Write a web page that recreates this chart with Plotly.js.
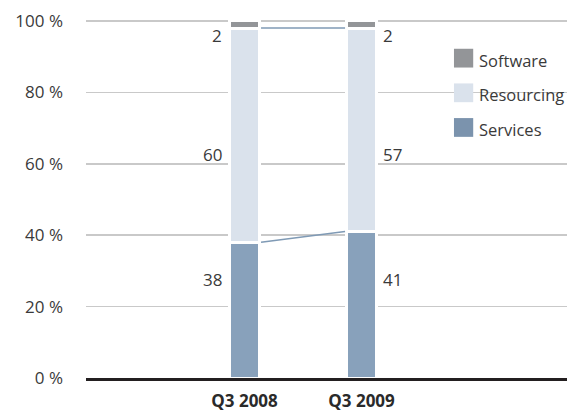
<!DOCTYPE html>
<html>
<head>
<meta charset="utf-8">
<script src="https://cdn.plot.ly/plotly-3.0.1.min.js"></script>
<style>html,body{margin:0;padding:0;background:#fff;}#chart{width:567px;height:413px;}</style>
</head>
<body>
<div id="chart"></div>
<script>
// ---- data ----
const categories = ["Q3 2008", "Q3 2009"];
const services = [38, 41];
const resourcing = [60, 57];
const software = [2, 2];
const seriesNames = ["Software", "Resourcing", "Services"];
const yTickVals = [0, 20, 40, 60, 80, 100];
const yTickText = ["0 %", "20 %", "40 %", "60 %", "80 %", "100 %"];

// ---- style ----
const FONT = "Open Sans, Noto Sans, sans-serif";
const TXT = "#3a3a3a";
const colSoftware = "#939598";
const colResourcing = "#dae2ec";
const colServices = "#88a1bb";
const colServicesLegend = "#7b93ad";
const lineCol = "#7f9ab5";
const barWidth = 0.256;
const idx = categories.map((c, i) => i);

const barLine = {color: "#ffffff", width: 3};
const traces = [
  {type: "bar", x: idx, y: services, name: "Services", width: barWidth,
   marker: {color: colServices, line: barLine}, hoverinfo: "skip", showlegend: false},
  {type: "bar", x: idx, y: resourcing, name: "Resourcing", width: barWidth,
   marker: {color: colResourcing, line: barLine}, hoverinfo: "skip", showlegend: false},
  {type: "bar", x: idx, y: software, name: "Software", width: barWidth,
   marker: {color: colSoftware, line: barLine}, hoverinfo: "skip", showlegend: false}
];

// connector lines between bars (tops of Services and of Resourcing)
const gapX = 0.141;
const topServices = services;
const topResourcing = services.map((v, i) => v + resourcing[i]);
traces.push({type: "scatter", mode: "lines", x: [idx[0] + gapX, idx[1] - gapX],
  y: [topServices[0], topServices[1]], line: {color: lineCol, width: 1.5},
  hoverinfo: "skip", showlegend: false});
traces.push({type: "scatter", mode: "lines", x: [idx[0] + gapX, idx[1] - gapX],
  y: [topResourcing[0], topResourcing[1]], line: {color: lineCol, width: 1.5},
  hoverinfo: "skip", showlegend: false});

// value labels
const labelY = {Software: 96, Resourcing: 62.5, Services: 27.7};
const seriesVals = {Software: software, Resourcing: resourcing, Services: services};
const annotations = [];
seriesNames.forEach(name => {
  idx.forEach(i => {
    annotations.push({
      x: i, y: labelY[name], xref: "x", yref: "y",
      text: String(seriesVals[name][i]), showarrow: false,
      xanchor: i === 0 ? "right" : "left",
      xshift: i === 0 ? -21 : 19,
      font: {family: FONT, size: 17, color: TXT}
    });
  });
});

// custom legend
const legendCols = {Software: colSoftware, Resourcing: colResourcing, Services: colServicesLegend};
const shapes = [];
seriesNames.forEach((name, k) => {
  const yc = 0.886 - k * 0.096;
  shapes.push({type: "rect", xref: "paper", yref: "paper",
    x0: 0.765, x1: 0.805, y0: yc - 0.026, y1: yc + 0.026,
    fillcolor: legendCols[name], line: {width: 0}});
  annotations.push({xref: "paper", yref: "paper", x: 0.813, y: yc - 0.006,
    xanchor: "left", yanchor: "middle", text: name, showarrow: false,
    font: {family: FONT, size: 16.5, color: TXT}});
});

const layout = {
  width: 567, height: 413,
  margin: {l: 86, r: 0, t: 17, b: 35},
  paper_bgcolor: "#ffffff", plot_bgcolor: "#ffffff",
  barmode: "stack", bargap: 0,
  showlegend: false,
  xaxis: {
    range: [-1.355, 2.756], tickvals: idx, ticktext: categories,
    showgrid: false, zeroline: false, showline: true, linecolor: "#231f20", linewidth: 3,
    ticks: "", ticklabelstandoff: 6, layer: "above traces",
    tickfont: {family: FONT, size: 17, color: "#2a2a2a", weight: "bold"}
  },
  yaxis: {
    range: [0, 101.1], tickvals: yTickVals, ticktext: yTickText,
    showgrid: true, gridcolor: "#c9c9c9", gridwidth: 1.5, zeroline: false,
    showline: false, ticks: "", ticklabelstandoff: 22,
    tickfont: {family: FONT, size: 17, color: TXT}
  },
  annotations: annotations,
  shapes: shapes,
  font: {family: FONT}
};

Plotly.newPlot("chart", traces, layout, {displayModeBar: false, staticPlot: true});
</script>
</body>
</html>
